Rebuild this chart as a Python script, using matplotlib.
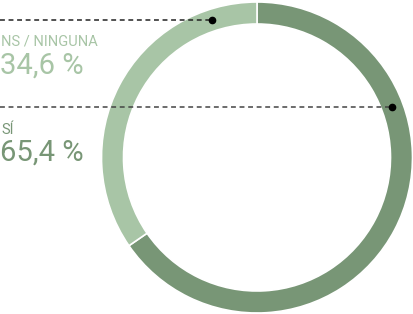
import numpy as np
import matplotlib.pyplot as plt

labels = ['SÍ', 'NS / NINGUNA']
values = [65.4, 34.6]
value_text = ['65,4 %', '34,6 %']
colors = ['#789676', '#a8c5a6']

# where the leader lines touch the ring (degrees clockwise from 12 o'clock)
anchor_angle = [69.5, 342.0]

W, H = 413, 314
fig = plt.figure(figsize=(W / 100, H / 100), dpi=100)
ax = fig.add_axes([0, 0, 1, 1])

cx, cy, r, ring = 257, 156.5, 155.5, 22
ax.pie(values, colors=colors, startangle=90, counterclock=False,
       center=(cx, cy), radius=r,
       wedgeprops=dict(width=ring, edgecolor='white', linewidth=1.2))
ax.set_xlim(0, W)
ax.set_ylim(0, H)
ax.set_aspect('equal')
ax.axis('off')

line_cols = ['#444444', '#222222']
text_y = [(H - 130, H - 153), (H - 42, H - 66)]
for i in range(2):
    a = np.radians(anchor_angle[i])
    rr = r - ring / 2
    px = cx + rr * np.sin(a)
    py = cy + rr * np.cos(a)
    ax.plot([0, px], [py, py], ls=(0, (3.2, 2.4)), color=line_cols[i], lw=1.1)
    ax.plot(px, py, 'o', color='black', ms=4.5)
    ax.text(1, text_y[i][0], labels[i], color=colors[i], fontsize=10.5,
            family='Roboto', va='center', ha='left')
    ax.text(0, text_y[i][1], value_text[i], color=colors[i], fontsize=21,
            family='Roboto', va='center', ha='left')

fig.savefig('out.png', dpi=100)
